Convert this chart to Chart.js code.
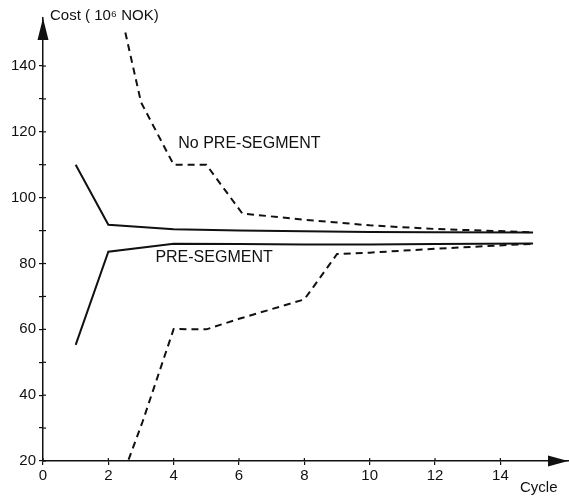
<!DOCTYPE html>
<html>
<head>
<meta charset="utf-8">
<script src="https://cdn.jsdelivr.net/npm/chart.js@4/dist/chart.umd.min.js"></script>
<style>
  html, body { margin: 0; padding: 0; background: #fff; }
  #wrap { width: 569px; height: 498px; position: relative; }
</style>
</head>
<body>
<div id="wrap"><canvas id="c" width="569" height="498"></canvas></div>
<script>
// ---- data ----
const xTickValues = [0, 2, 4, 6, 8, 10, 12, 14];
const yTickValues = [20, 30, 40, 50, 60, 70, 80, 90, 100, 110, 120, 130, 140];
const yLabelValues = [20, 40, 60, 80, 100, 120, 140];

// solid, upper (converges from above)
const cycleSolidUpper = [1, 2, 4, 6, 8, 10, 12, 15];
const costSolidUpper  = [110, 91.8, 90.4, 90.0, 89.8, 89.6, 89.5, 89.4];
// solid, lower (PRE-SEGMENT)
const cycleSolidLower = [1, 2, 4, 6, 8, 10, 12, 15];
const costSolidLower  = [55.3, 83.6, 86.0, 85.9, 85.8, 85.8, 85.9, 86.1];
// dashed, upper (No PRE-SEGMENT)
const cycleDashUpper = [2.52, 3, 4, 5, 6.1, 8, 10, 12, 15];
const costDashUpper  = [150.2, 129, 110, 110, 95.2, 93.3, 91.6, 90.5, 89.5];
// dashed, lower
const cycleDashLower = [2.62, 3.05, 4, 5, 6, 8, 9, 10, 12, 15];
const costDashLower  = [20.4, 32, 60.1, 60, 63.2, 69.1, 82.9, 83.3, 84.5, 86];

const X_MAX = 16.1;
const Y_MAX = 154.6;

function pts(xs, ys) { return xs.map((x, i) => ({ x: x, y: ys[i] })); }

const ink = '#111';
const FONT = '"Liberation Sans", Arial, Helvetica, sans-serif';

const decorations = {
  id: 'decorations',
  afterDraw(chart) {
    const ctx = chart.ctx;
    const xs = chart.scales.x, ys = chart.scales.y;
    const x0 = xs.getPixelForValue(0);
    const yb = ys.getPixelForValue(20);
    ctx.save();
    ctx.fillStyle = ink;
    // y arrow head
    const yt = ys.getPixelForValue(Y_MAX);
    ctx.beginPath();
    ctx.moveTo(x0, yt);
    ctx.lineTo(x0 - 5.5, yt + 22);
    ctx.lineTo(x0 + 5.5, yt + 22);
    ctx.closePath();
    ctx.fill();
    // x arrow head
    const xr = xs.getPixelForValue(X_MAX) - 1;
    ctx.beginPath();
    ctx.moveTo(xr, yb);
    ctx.lineTo(xr - 20, yb - 5.5);
    ctx.lineTo(xr - 20, yb + 5.5);
    ctx.closePath();
    ctx.fill();
    // small tick marks crossing into the plot
    ctx.strokeStyle = ink;
    ctx.lineWidth = 1.2;
    yTickValues.forEach(v => {
      const p = ys.getPixelForValue(v);
      ctx.beginPath(); ctx.moveTo(x0, p); ctx.lineTo(x0 + 3, p); ctx.stroke();
    });
    xTickValues.forEach(v => {
      const p = xs.getPixelForValue(v);
      ctx.beginPath(); ctx.moveTo(p, yb); ctx.lineTo(p, yb - 3); ctx.stroke();
    });
    // texts
    ctx.textBaseline = 'middle';
    ctx.textAlign = 'left';
    ctx.font = '16px ' + FONT;
    ctx.fillText('No PRE-SEGMENT', xs.getPixelForValue(4.14), ys.getPixelForValue(116.4));
    ctx.fillText('PRE-SEGMENT', xs.getPixelForValue(3.44), ys.getPixelForValue(81.9));
    ctx.font = '15px ' + FONT;
    ctx.fillText('Cost ( 10\u2076 NOK)', 50, 16);
    ctx.textAlign = 'left';
    ctx.fillText('Cycle', 520, 488);
    ctx.restore();
  }
};

const common = { fill: false, pointRadius: 0, borderColor: ink, borderWidth: 2, tension: 0 };

new Chart(document.getElementById('c'), {
  type: 'line',
  data: {
    datasets: [
      Object.assign({ label: 'solid upper', data: pts(cycleSolidUpper, costSolidUpper) }, common),
      Object.assign({ label: 'PRE-SEGMENT', data: pts(cycleSolidLower, costSolidLower) }, common),
      Object.assign({ label: 'No PRE-SEGMENT', data: pts(cycleDashUpper, costDashUpper), borderDash: [7, 5] }, common),
      Object.assign({ label: 'dashed lower', data: pts(cycleDashLower, costDashLower), borderDash: [7, 5] }, common)
    ]
  },
  options: {
    responsive: false,
    animation: false,
    layout: { padding: { top: 18, right: 0, left: 0, bottom: 0 } },
    plugins: { legend: { display: false }, tooltip: { enabled: false }, title: { display: false } },
    scales: {
      x: {
        type: 'linear', min: 0, max: X_MAX,
        afterBuildTicks(s) { s.ticks = xTickValues.map(v => ({ value: v })); },
        afterFit(s) { s.height = 37; },
        grid: { drawOnChartArea: false, drawTicks: true, tickLength: 4, color: ink, lineWidth: 1.2 },
        border: { display: true, color: ink, width: 1.5 },
        ticks: { color: ink, font: { family: FONT, size: 15 }, padding: 2, maxRotation: 0, autoSkip: false }
      },
      y: {
        type: 'linear', min: 20, max: Y_MAX,
        afterBuildTicks(s) { s.ticks = yTickValues.map(v => ({ value: v })); },
        afterFit(s) { s.width = 43; },
        grid: { drawOnChartArea: false, drawTicks: true, tickLength: 4, color: ink, lineWidth: 1.2 },
        border: { display: true, color: ink, width: 1.5 },
        ticks: {
          color: ink, font: { family: FONT, size: 15 }, padding: 3, autoSkip: false,
          callback: v => (yLabelValues.includes(v) ? String(v) : '')
        }
      }
    }
  },
  plugins: [decorations]
});
</script>
</body>
</html>
